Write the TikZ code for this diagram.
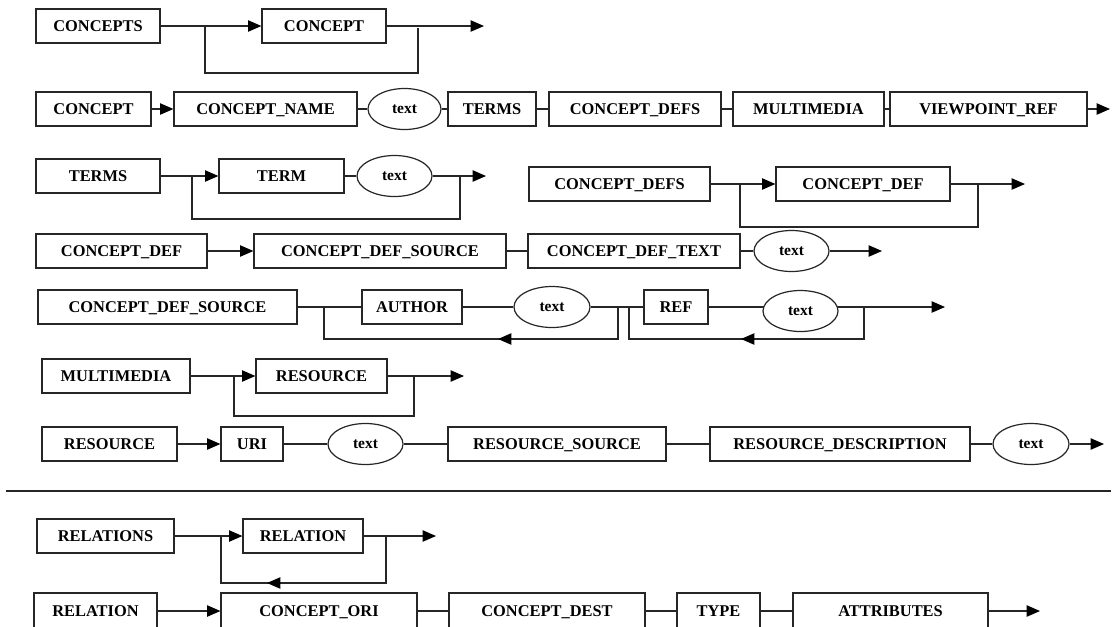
\documentclass[tikz,border=0pt]{standalone}
\usepackage{fontspec}
\setmainfont{Liberation Serif}
\usetikzlibrary{arrows.meta,shapes.geometric,backgrounds}
\begin{document}
\begin{tikzpicture}[x=0.75pt,y=-0.75pt,
  box/.style={draw=black!85,line width=0.9pt,fill=white,rectangle,minimum height=25.5pt,inner sep=0pt,
    text height=8.2pt,text depth=0pt,font=\fontsize{12.3}{14}\selectfont\bfseries},
  oval/.style={draw=black!85,line width=0.9pt,fill=white,ellipse,minimum width=56.25pt,minimum height=30.75pt,inner sep=0pt,
    text height=7.4pt,text depth=0pt,font=\fontsize{11.6}{13}\selectfont\bfseries},
  link/.style={draw=black!85,line width=0.85pt},
  arr/.style={link,-{Triangle[length=10pt,width=8.5pt,color=black]}},
]
\useasboundingbox (0,0) rectangle (1114,626);

% ---------- Row 1
\node[box,minimum width=93pt] (n1a) at (98,26) {CONCEPTS};
\node[box,minimum width=93pt] (n1b) at (324,26) {CONCEPT};
\coordinate (c1e) at (484,26);
\coordinate (l1a) at (205,26);
\coordinate (l1b) at (418,73);
\coordinate (l1c) at (418,28);

% ---------- Row 2
\node[box,minimum width=86.25pt] (n2a) at (93.5,109) {CONCEPT};
\node[box,minimum width=137.25pt] (n2b) at (265.5,109) {CONCEPT\_NAME};
\node[oval,minimum width=54.75pt] (e2) at (404.5,109) {text};
\node[box,minimum width=66pt] (n2c) at (492,109) {TERMS};
\node[box,minimum width=129pt] (n2d) at (635,109) {CONCEPT\_DEFS};
\node[box,minimum width=113.25pt] (n2e) at (808.5,109) {MULTIMEDIA};
\node[box,minimum width=147.75pt] (n2f) at (988.5,109) {VIEWPOINT\_REF};
\coordinate (c2e) at (1110,109);

% ---------- Row 3 left
\node[box,minimum width=93pt] (n3a) at (98,176) {TERMS};
\node[box,minimum width=93.75pt] (n3b) at (281.5,176) {TERM};
\node[oval] (e3) at (394.5,176) {text};
\coordinate (c3e) at (486,176);
\coordinate (l3a) at (192,176);
\coordinate (l3b) at (460,219);
\coordinate (l3c) at (460,176);

% ---------- Row 3 right
\node[box,minimum width=135.75pt] (n3c) at (619.5,184) {CONCEPT\_DEFS};
\node[box,minimum width=130.5pt] (n3d) at (863,184) {CONCEPT\_DEF};
\coordinate (c3f) at (1025,184);
\coordinate (l3d) at (740,184);
\coordinate (l3e) at (978,227);
\coordinate (l3f) at (978,184);

% ---------- Row 4
\node[box,minimum width=128.25pt] (n4a) at (121.5,251) {CONCEPT\_DEF};
\node[box,minimum width=189pt] (n4b) at (380,251) {CONCEPT\_DEF\_SOURCE};
\node[box,minimum width=159pt] (n4c) at (634,251) {CONCEPT\_DEF\_TEXT};
\node[oval] (e4) at (791.5,251) {text};
\coordinate (c4e) at (882,251);

% ---------- Row 5
\node[box,minimum width=194.25pt] (n5a) at (167.5,307) {CONCEPT\_DEF\_SOURCE};
\node[box,minimum width=75pt] (n5b) at (412,307) {AUTHOR};
\node[oval,minimum width=57pt] (e5a) at (552,307) {text};
\node[box,minimum width=48pt] (n5c) at (676,307) {REF};
\node[oval] (e5b) at (800.5,311) {text};
\coordinate (c5e) at (945,307);
\coordinate (l5a) at (324,307);
\coordinate (l5b) at (618,339);
\coordinate (l5c) at (618,307);
\coordinate (l5m) at (513,339);
\coordinate (l5t) at (498,339);
\coordinate (l5d) at (629,307);
\coordinate (l5e) at (864,339);
\coordinate (l5f) at (864,307);
\coordinate (l5n) at (756,339);
\coordinate (l5u) at (741,339);

% ---------- Row 6
\node[box,minimum width=111pt] (n6a) at (116,376) {MULTIMEDIA};
\node[box,minimum width=98.25pt] (n6b) at (321.5,376) {RESOURCE};
\coordinate (c6e) at (464,376);
\coordinate (l6a) at (234,376);
\coordinate (l6b) at (414,416);
\coordinate (l6c) at (414,376);

% ---------- Row 7
\node[box,minimum width=101.25pt] (n7a) at (109.5,444) {RESOURCE};
\node[box,minimum width=46.5pt] (n7b) at (252,444) {URI};
\node[oval] (e7a) at (365.5,444) {text};
\node[box,minimum width=163.5pt] (n7c) at (557,444) {RESOURCE\_SOURCE};
\node[box,minimum width=195pt] (n7d) at (840,444) {RESOURCE\_DESCRIPTION};
\node[oval,minimum width=57pt] (e7b) at (1031,444) {text};
\coordinate (c7e) at (1104,444);

% ---------- Separator
\coordinate (s1) at (6,491);
\coordinate (s2) at (1111,491);

% ---------- Row 8
\node[box,minimum width=102.75pt] (n8a) at (105.5,536) {RELATIONS};
\node[box,minimum width=90pt] (n8b) at (303,536) {RELATION};
\coordinate (c8e) at (436,536);
\coordinate (l8a) at (221,536);
\coordinate (l8b) at (386,583);
\coordinate (l8c) at (386,536);
\coordinate (l8m) at (282,583);
\coordinate (l8t) at (267,583);

% ---------- Row 9
\node[box,minimum width=92.25pt,minimum height=27pt] (n9a) at (95.5,611) {RELATION};
\node[box,minimum width=147pt,minimum height=27pt] (n9b) at (319,611) {CONCEPT\_ORI};
\node[box,minimum width=147pt,minimum height=27pt] (n9c) at (547,611) {CONCEPT\_DEST};
\node[box,minimum width=62.25pt,minimum height=27pt] (n9d) at (718.5,611) {TYPE};
\node[box,minimum width=146.25pt,minimum height=27pt] (n9e) at (890.5,611) {ATTRIBUTES};
\coordinate (c9e) at (1040,611);

\begin{scope}[on background layer]
  % row 1
  \draw[arr] (n1a) -- (n1b);
  \draw[arr] (n1b) -- (c1e);
  \draw[link] (l1a) |- (l1b) -- (l1c);
  % row 2
  \draw[arr] (n2a) -- (n2b);
  \draw[link] (n2b) -- (e2);
  \draw[link] (e2) -- (n2c);
  \draw[link] (n2c) -- (n2d);
  \draw[link] (n2d) -- (n2e);
  \draw[link] (n2e) -- (n2f);
  \draw[arr] (n2f) -- (c2e);
  % row 3 left
  \draw[arr] (n3a) -- (n3b);
  \draw[link] (n3b) -- (e3);
  \draw[arr] (e3) -- (c3e);
  \draw[link] (l3a) |- (l3b) -- (l3c);
  % row 3 right
  \draw[arr] (n3c) -- (n3d);
  \draw[arr] (n3d) -- (c3f);
  \draw[link] (l3d) |- (l3e) -- (l3f);
  % row 4
  \draw[arr] (n4a) -- (n4b);
  \draw[link] (n4b) -- (n4c);
  \draw[link] (n4c) -- (e4);
  \draw[arr] (e4) -- (c4e);
  % row 5
  \draw[link] (n5a) -- (n5b);
  \draw[link] (n5b) -- (e5a);
  \draw[link] (e5a) -- (n5c);
  \draw[link] (n5c.east) -- (n5c.east -| e5b.center);
  \draw[arr] (e5b.center |- c5e) -- (c5e);
  \draw[link] (l5a) |- (l5b) -- (l5c);
  \draw[link] (l5d) |- (l5e) -- (l5f);
  \draw[arr] (l5m) -- (l5t);
  \draw[arr] (l5n) -- (l5u);
  % row 6
  \draw[arr] (n6a) -- (n6b);
  \draw[arr] (n6b) -- (c6e);
  \draw[link] (l6a) |- (l6b) -- (l6c);
  % row 7
  \draw[arr] (n7a) -- (n7b);
  \draw[link] (n7b) -- (e7a);
  \draw[link] (e7a) -- (n7c);
  \draw[link] (n7c) -- (n7d);
  \draw[link] (n7d) -- (e7b);
  \draw[arr] (e7b) -- (c7e);
  % separator
  \draw[black!85,line width=1.2pt] (s1) -- (s2);
  % row 8
  \draw[arr] (n8a) -- (n8b);
  \draw[arr] (n8b) -- (c8e);
  \draw[link] (l8a) |- (l8b) -- (l8c);
  \draw[arr] (l8m) -- (l8t);
  % row 9
  \draw[arr] (n9a) -- (n9b);
  \draw[link] (n9b) -- (n9c);
  \draw[link] (n9c) -- (n9d);
  \draw[link] (n9d) -- (n9e);
  \draw[arr] (n9e) -- (c9e);
\end{scope}
\end{tikzpicture}
\end{document}
